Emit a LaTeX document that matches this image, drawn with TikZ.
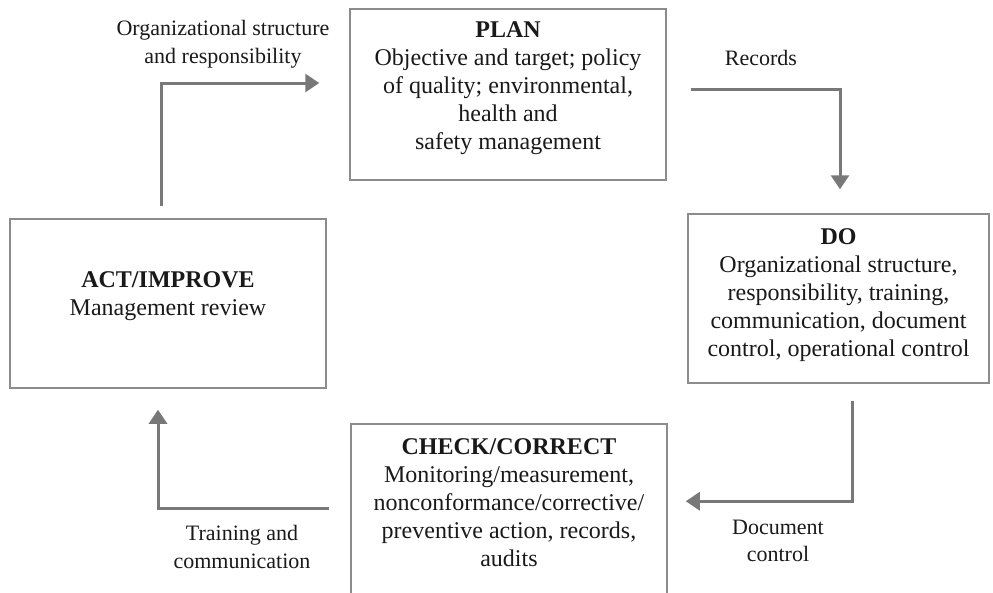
\documentclass[tikz,border=0pt]{standalone}
\usepackage{fontspec}
\setmainfont{Liberation Serif}
\usetikzlibrary{arrows.meta,calc}
\definecolor{boxgray}{RGB}{140,140,140}
\definecolor{arrgray}{RGB}{120,120,120}
\tikzset{
  box/.style={draw=boxgray, line width=1.5pt, inner sep=0pt},
  boxtext/.style={align=center, font=\fontsize{24}{28}\selectfont, text=black!90, inner sep=0pt},
  lbl/.style={align=center, font=\fontsize{22}{27.5}\selectfont, text=black!90, inner sep=0pt},
  arr/.style={draw=arrgray, line width=3pt, -{Triangle[length=14pt,width=18pt]}}
}
\begin{document}
\begin{tikzpicture}[x=1pt,y=-1pt]
\useasboundingbox (0,0) rectangle (993,592);
% boxes
\node[box, minimum width=316pt, minimum height=171pt] (plan) at (508,94.5) {};
\node[box, minimum width=316pt, minimum height=169pt] (act) at (168,303.5) {};
\node[box, minimum width=301pt, minimum height=169pt] (do) at (838.5,298.5) {};
\node[box, minimum width=316pt, minimum height=186pt] (check) at (509,517) {};
% texts
\node[boxtext] (plantext) at (508,88) {\textbf{PLAN}\\Objective and target; policy\\of quality; environmental,\\health and\\safety management};
\node[boxtext] (acttext) at (168,296) {\textbf{ACT/IMPROVE}\\Management review};
\node[boxtext] (dotext) at (838.5,295) {\textbf{DO}\\Organizational structure,\\responsibility, training,\\communication, document\\control, operational control};
\node[boxtext] (checktext) at (509,503) {\textbf{CHECK/CORRECT}\\Monitoring/measurement,\\nonconformance/corrective/\\preventive action, records,\\audits};
% labels
\node[lbl] (l1) at (223,44) {Organizational structure\\and responsibility};
\node[lbl] (l2) at (761,58) {Records};
\node[lbl] (l3) at (778,541) {Document\\control};
\node[lbl] (l4) at (242,547) {Training and\\communication};
% connectors
\draw[arr] ($(act.north)+(-7,-12)$) |- ($(plan.west)+(-30,-11.5)$);
\draw[arr] ($(plan.east)+(24,-5.5)$) -| ($(do.north)+(1.5,-24)$);
\draw[arr] ($(do.south)+(13.5,17)$) |- ($(check.north east)+(18,78)$);
\draw[arr] ($(check.north west)+(-21,85)$) -| ($(act.south)+(-10,21)$);
\end{tikzpicture}
\end{document}
